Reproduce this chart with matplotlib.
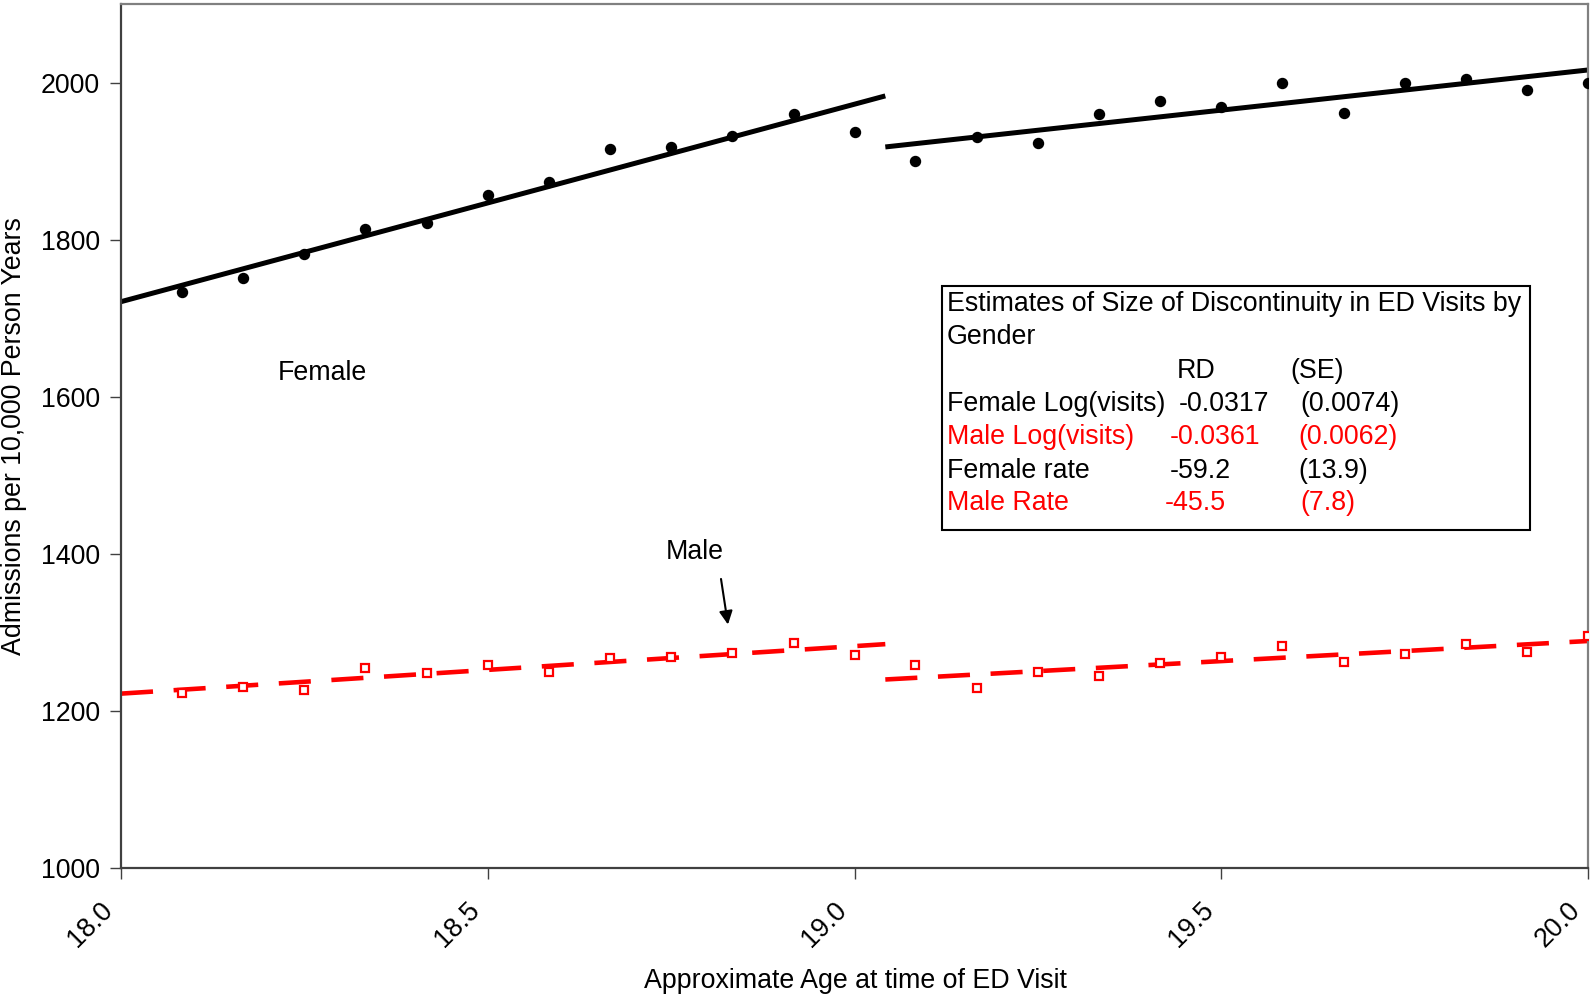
import matplotlib
matplotlib.use("Agg")
import matplotlib.pyplot as plt
from matplotlib.transforms import ScaledTranslation

plt.rcParams['font.family'] = ['Liberation Sans', 'DejaVu Sans']

# monthly age bins (years)
ages = [18.083, 18.167, 18.250, 18.333, 18.417, 18.500, 18.583, 18.667,
        18.750, 18.833, 18.917, 19.000, 19.083, 19.167, 19.250, 19.333,
        19.417, 19.500, 19.583, 19.667, 19.750, 19.833, 19.917, 20.000]

female_rate = [1733, 1751, 1782, 1813, 1821, 1857, 1874, 1915,
               1918, 1932, 1960, 1937, 1900, 1931, 1923, 1960,
               1976, 1969, 2000, 1961, 2000, 2005, 1990, 2000]

male_rate = [1223, 1230, 1227, 1255, 1248, 1258, 1250, 1267,
             1268, 1274, 1287, 1271, 1259, 1229, 1250, 1244,
             1261, 1269, 1283, 1262, 1273, 1285, 1275, 1295]

# fitted lines on each side of the cutoff
cutoff = 19.042
left_x = [18.0, cutoff]
right_x = [cutoff, 20.0]
female_fit_left = [1721, 1983]
female_fit_right = [1918, 2016]
male_fit_left = [1222, 1285]
male_fit_right = [1240, 1289]

# discontinuity estimates table
est_rows = ['Female Log(visits)', 'Male Log(visits)', 'Female rate', 'Male Rate']
est_rd = ['-0.0317', '-0.0361', '-59.2', '-45.5']
est_se = ['(0.0074)', '(0.0062)', '(13.9)', '(7.8)']
est_colors = ['black', 'red', 'black', 'red']

W, H = 1590, 996
FS = 19.3

fig = plt.figure(figsize=(W / 100, H / 100), dpi=100)
ax = fig.add_axes([121 / W, 1 - 868 / H, (1588 - 121) / W, (868 - 4) / H])


def px(x, y):
    # pixel position in the image -> figure fraction
    return x / W, 1 - y / H


# female series
ax.plot(ages, female_rate, 'o', color='black', markersize=7.2, zorder=3)
ax.plot(left_x, female_fit_left, color='black', lw=3.6, solid_capstyle='butt', zorder=2)
ax.plot(right_x, female_fit_right, color='black', lw=3.6, solid_capstyle='butt', zorder=2)

# male series
ax.plot(ages, male_rate, 's', mfc='white', mec='red', markersize=6, mew=1.6, zorder=3)
for xs, ys in [(left_x, male_fit_left), (right_x, male_fit_right)]:
    ax.plot(xs, ys, color='red', lw=3.3, dashes=(7, 4.5), dash_capstyle='butt', zorder=2)

ax.set_xlim(18.0, 20.0)
ax.set_ylim(1000, 2100)
ax.set_xticks([18.0, 18.5, 19.0, 19.5, 20.0])
ax.set_xticklabels(['18.0', '18.5', '19.0', '19.5', '20.0'])
ax.set_yticks([1000, 1200, 1400, 1600, 1800, 2000])
ax.tick_params(axis='both', labelsize=FS, length=8, width=1, color='#404040')
ax.tick_params(axis='y', pad=7)
ax.tick_params(axis='x', pad=8)
shift = ScaledTranslation(-0.21, -0.07, fig.dpi_scale_trans)
for lab in ax.get_xticklabels():
    lab.set_rotation(45)
    lab.set_ha('right')
    lab.set_rotation_mode('anchor')
    lab.set_transform(lab.get_transform() + shift)

for side in ['top', 'right']:
    ax.spines[side].set_color('#808080')
    ax.spines[side].set_linewidth(1.6)
for side in ['left', 'bottom']:
    ax.spines[side].set_color('#404040')
    ax.spines[side].set_linewidth(1.6)

fig.text(*px(855, 981), 'Approximate Age at time of ED Visit', fontsize=FS,
         ha='center', va='center')
fig.text(*px(14, 436), 'Admissions per 10,000 Person Years', fontsize=FS,
         ha='center', va='center', rotation=90)

# series labels
ax.text(18.214, 1630, 'Female', fontsize=FS, ha='left', va='center')
ax.text(18.742, 1402, 'Male', fontsize=FS, ha='left', va='center')
ax.annotate('', xy=(18.8275, 1310), xytext=(18.818, 1368),
            arrowprops=dict(arrowstyle='-|>', color='black', lw=1.5,
                            mutation_scale=20, shrinkA=0, shrinkB=0))

# estimates box
box = plt.Rectangle(px(942, 530), (1530 - 942) / W, (530 - 286) / H,
                    transform=fig.transFigure, fill=False, edgecolor='black',
                    lw=1.5, zorder=5)
fig.patches.append(box)
fig.text(*px(947, 304), 'Estimates of Size of Discontinuity in ED Visits by',
         fontsize=FS, va='center')
fig.text(*px(947, 337), 'Gender', fontsize=FS, va='center')
fig.text(*px(1177, 371), 'RD', fontsize=FS, va='center')
fig.text(*px(1290, 371), '(SE)', fontsize=FS, va='center')
rd_x = [1179, 1170, 1170, 1165]
se_x = [1300, 1298, 1298, 1300]
row_y = [404, 437, 471, 503]
for name, rd, se, c, rx, sx, ry in zip(est_rows, est_rd, est_se, est_colors,
                                       rd_x, se_x, row_y):
    fig.text(*px(947, ry), name, fontsize=FS, va='center', color=c)
    fig.text(*px(rx, ry), rd, fontsize=FS, va='center', color=c)
    fig.text(*px(sx, ry), se, fontsize=FS, va='center', color=c)

fig.savefig('out.png', dpi=100)
